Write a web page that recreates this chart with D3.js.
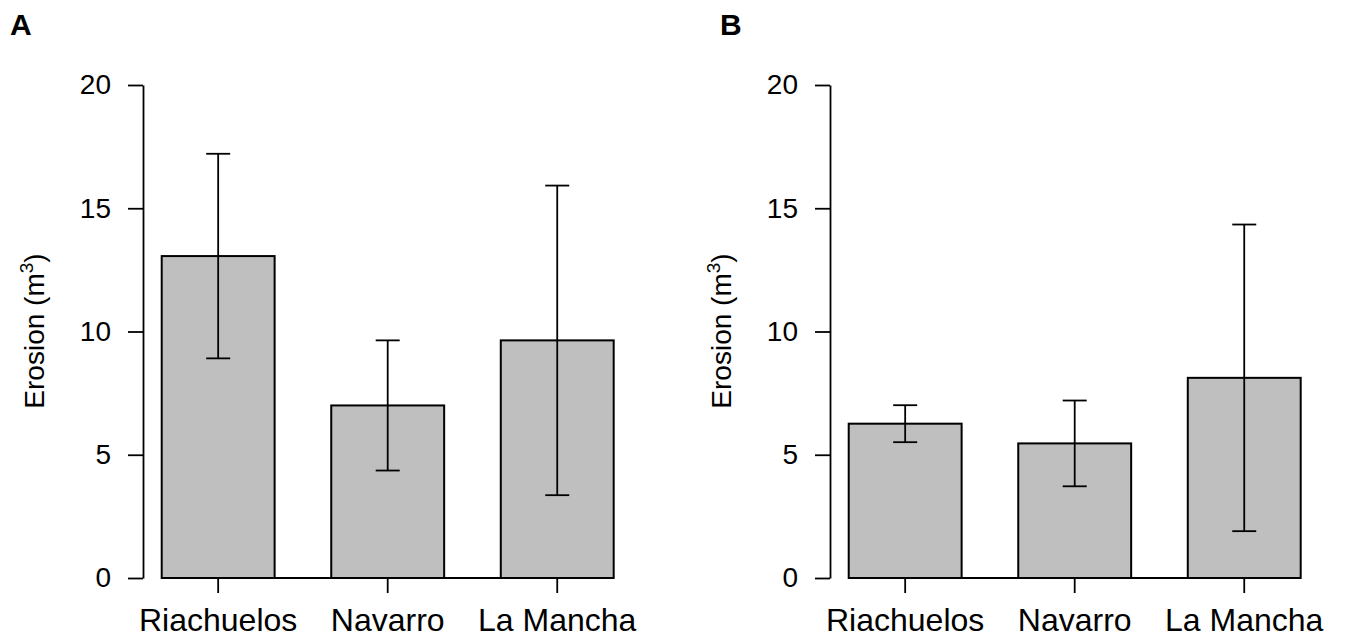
<!DOCTYPE html>
<html>
<head>
<meta charset="utf-8">
<script src="https://cdn.jsdelivr.net/npm/d3@7"></script>
<style>
  html, body { margin: 0; padding: 0; background: #fff; }
  svg { display: block; font-family: "Liberation Sans", Arial, sans-serif; }
</style>
</head>
<body>
<div id="chart"></div>
<script>
// ===== DATA =====
const sites = ['Riachuelos', 'Navarro', 'La Mancha'];
const yTicks = [0, 5, 10, 15, 20];

// panel A
const meanA = [13.06, 7.0, 9.64];
const errA = [4.15, 2.64, 6.28];

// panel B
const meanB = [6.26, 5.46, 8.12];
const errB = [0.75, 1.74, 6.22];

const panels = [
  { label: 'A', mean: meanA, err: errA, dx: 0, lx: 10 },
  { label: 'B', mean: meanB, err: errB, dx: 687, lx: 720 }
];

const W = 1350, H = 638;

const svg = d3.select('#chart')
  .append('svg')
  .attr('width', W)
  .attr('height', H);

const y = d3.scaleLinear().domain([0, 20]).range([578, 85]);

const x = d3.scaleBand()
  .domain(sites)
  .range([133.4, 642])
  .paddingInner(0.334)
  .paddingOuter(0.167);

panels.forEach(p => {
  // panel letter
  svg.append('text')
    .attr('x', p.lx)
    .attr('y', 35)
    .attr('font-size', 30)
    .attr('font-weight', 'bold')
    .text(p.label);

  const g = svg.append('g').attr('transform', `translate(${p.dx},0)`);

  // bars
  g.selectAll('rect.bar')
    .data(sites)
    .join('rect')
    .attr('class', 'bar')
    .attr('x', d => x(d))
    .attr('width', x.bandwidth())
    .attr('y', (d, i) => y(p.mean[i]))
    .attr('height', (d, i) => y(0) - y(p.mean[i]))
    .attr('fill', '#bfbfbf')
    .attr('stroke', '#000')
    .attr('stroke-width', 2);

  // baseline under the bars
  g.append('line')
    .attr('x1', x(sites[0]))
    .attr('x2', x(sites[sites.length - 1]) + x.bandwidth())
    .attr('y1', y(0))
    .attr('y2', y(0))
    .attr('stroke', '#000')
    .attr('stroke-width', 2);

  // error bars
  const eb = g.selectAll('g.err')
    .data(sites)
    .join('g')
    .attr('class', 'err')
    .attr('stroke', '#000')
    .attr('stroke-width', 1.8);

  const cx = d => x(d) + x.bandwidth() / 2;
  const capW = 12;

  eb.append('line')
    .attr('x1', cx).attr('x2', cx)
    .attr('y1', (d, i) => y(p.mean[i] + p.err[i]))
    .attr('y2', (d, i) => y(p.mean[i] - p.err[i]));
  eb.append('line')
    .attr('x1', d => cx(d) - capW).attr('x2', d => cx(d) + capW)
    .attr('y1', (d, i) => y(p.mean[i] + p.err[i]))
    .attr('y2', (d, i) => y(p.mean[i] + p.err[i]));
  eb.append('line')
    .attr('x1', d => cx(d) - capW).attr('x2', d => cx(d) + capW)
    .attr('y1', (d, i) => y(p.mean[i] - p.err[i]))
    .attr('y2', (d, i) => y(p.mean[i] - p.err[i]));

  // y axis
  const yAxis = g.append('g')
    .attr('transform', 'translate(143,0)')
    .call(d3.axisLeft(y).tickValues(yTicks).tickSize(15).tickSizeOuter(0).tickPadding(17));
  yAxis.selectAll('path, line').attr('stroke', '#000').attr('stroke-width', 1.8);
  yAxis.selectAll('text')
    .attr('font-size', 28)
    .attr('font-family', '"Liberation Sans", Arial, sans-serif')
    .attr('fill', '#000');

  // x axis (ticks + labels only)
  const xAxis = g.append('g')
    .attr('transform', `translate(0,${y(0)})`)
    .call(d3.axisBottom(x).tickSize(15).tickSizeOuter(0).tickPadding(15));
  xAxis.select('.domain').remove();
  xAxis.selectAll('line').attr('stroke', '#000').attr('stroke-width', 1.8);
  xAxis.selectAll('text')
    .attr('font-size', 32)
    .attr('font-family', '"Liberation Sans", Arial, sans-serif')
    .attr('fill', '#000');

  // y axis title
  const yt = g.append('text')
    .attr('transform', 'translate(43.5,331) rotate(-90)')
    .attr('text-anchor', 'middle')
    .attr('font-size', 28);
  yt.append('tspan').text('Erosion (m');
  yt.append('tspan').attr('font-size', 19).attr('dy', -11).text('3');
  yt.append('tspan').attr('dy', 11).text(')');
});
</script>
</body>
</html>
